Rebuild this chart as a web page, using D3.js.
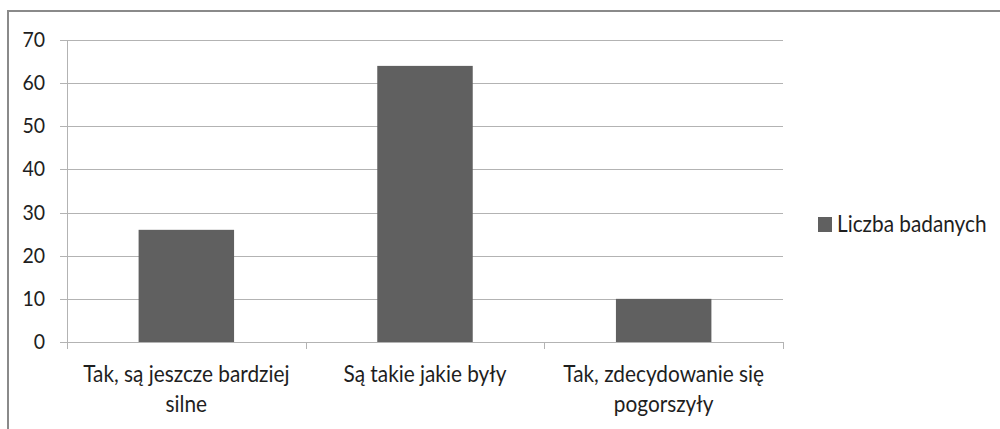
<!DOCTYPE html>
<html><head><meta charset="utf-8">
<script src="https://cdn.jsdelivr.net/npm/d3@7"></script>
<style>body{margin:0;background:#fff}svg{display:block}</style>
</head><body>
<svg id="c" width="1000" height="429"></svg>
<script>
const categories = [["Tak, są jeszcze bardziej","silne"],["Są takie jakie były"],["Tak, zdecydowanie się","pogorszyły"]];
const values = [26, 64, 10];
const yTicks = [0,10,20,30,40,50,60,70];
const seriesName = "Liczba badanych";

const svg = d3.select("#c");
const FONT = "Lato, 'Open Sans', sans-serif";
const FS = 20.8, FSY = 19.5, SY = 1.13;
const mLeft = 67, mRight = 783, mTop = 40, mBottom = 342;

// frame
svg.append("path").attr("d","M8,429 V11 H1000").attr("fill","none").attr("stroke","#8a8a8a").attr("stroke-width",2);

const x = d3.scaleBand().domain(d3.range(categories.length)).range([mLeft,mRight]).paddingInner(0.6).paddingOuter(0.3);
const xb = d3.scaleBand().domain(d3.range(categories.length)).range([mLeft,mRight]);
const y = d3.scaleLinear().domain([0,70]).range([mBottom,mTop]);

// gridlines
svg.append("g").selectAll("line").data(yTicks).join("line")
  .attr("x1",mLeft-7).attr("x2",mRight).attr("y1",d=>Math.round(y(d))+0.5).attr("y2",d=>Math.round(y(d))+0.5)
  .attr("stroke","#b3b3b3").attr("stroke-width",1);
// y axis line
svg.append("line").attr("x1",mLeft+0.5).attr("x2",mLeft+0.5).attr("y1",mTop).attr("y2",mBottom+7).attr("stroke","#b3b3b3");
// category ticks
svg.append("g").selectAll("line").data(d3.range(categories.length+1)).join("line")
  .attr("x1",d=>Math.round(d<categories.length?xb(d):mRight)+0.5).attr("x2",d=>Math.round(d<categories.length?xb(d):mRight)+0.5)
  .attr("y1",mBottom).attr("y2",mBottom+7).attr("stroke","#b3b3b3");

// bars
svg.append("g").selectAll("rect").data(values).join("rect")
  .attr("x",(d,i)=>x(i)).attr("width",x.bandwidth())
  .attr("y",d=>y(d)).attr("height",d=>y(0)-y(d)).attr("fill","#606060");

// y labels
svg.append("g").selectAll("text").data(yTicks).join("text")
  .attr("transform",d=>`translate(45,${y(d)+7}) scale(1,${SY})`)
  .attr("text-anchor","end").attr("font-family",FONT).attr("font-size",FSY).attr("fill","#1e1e1e").text(d=>d);

// x labels
categories.forEach((lines,i)=>{
  lines.forEach((t,j)=>{
    svg.append("text").attr("transform",`translate(${xb(i)+xb.bandwidth()/2},${382+j*30}) scale(1,${SY})`)
      .attr("text-anchor","middle").attr("font-family",FONT).attr("font-size",FS).attr("fill","#1e1e1e").text(t);
  });
});

// legend
svg.append("rect").attr("x",818).attr("y",217).attr("width",14).attr("height",15).attr("fill","#606060");
svg.append("text").attr("transform",`translate(837,232) scale(1,${SY})`).attr("font-family",FONT).attr("font-size",FS).attr("fill","#1e1e1e").text(seriesName);
</script>
</body></html>
